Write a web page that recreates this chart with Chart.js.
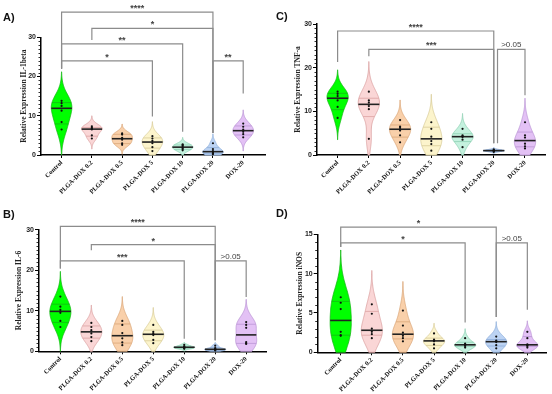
<!DOCTYPE html>
<html>
<head>
<meta charset="utf-8">
<script src="https://cdn.jsdelivr.net/npm/chart.js@4.4.1/dist/chart.umd.min.js"></script>
<style>
  body { margin: 0; background: #fff; }
  #wrap { position: relative; width: 552px; height: 394px; }
  .panel { position: absolute; width: 276px; height: 197px; }
</style>
</head>
<body>
<div id="wrap">
  <div class="panel" style="left:0;top:0"><canvas id="chartA" width="276" height="197"></canvas></div>
  <div class="panel" style="left:276px;top:0"><canvas id="chartC" width="276" height="197"></canvas></div>
  <div class="panel" style="left:0;top:197px"><canvas id="chartB" width="276" height="197"></canvas></div>
  <div class="panel" style="left:276px;top:197px"><canvas id="chartD" width="276" height="197"></canvas></div>
</div>
<script>
// --- data ---
const categories = ['Control', 'PLGA-DOX 0.2', 'PLGA-DOX 0.5', 'PLGA-DOX 5', 'PLGA-DOX 10', 'PLGA-DOX 20', 'DOX-20'];

// individual replicate values per group
const il1bValues = [
    [13.8, 13.2, 12.5, 11.3, 8.4, 6.5],
    [7.3, 6.9, 6.7, 6.5, 5.0, 4.2],
    [5.5, 5.2, 4.4, 3.9, 3.0, 2.6],
    [4.8, 4.2, 3.6, 3.0, 2.0, 1.0],
    [2.7, 2.5, 2.2, 1.8, 1.5, 1.2],
    [3.0, 1.5, 1.0, 0.7, 0.4, 0.2],
    [8.0, 7.2, 6.5, 5.9, 5.3, 4.5]
];
const tnfValues = [
    [14.5, 14.0, 13.5, 12.5, 11.0, 8.5],
    [14.5, 12.5, 12.0, 11.2, 10.5, 3.7],
    [8.0, 6.5, 6.2, 5.6, 4.5, 2.9],
    [7.5, 6.0, 4.2, 3.2, 2.5, 1.0],
    [6.0, 4.5, 4.3, 4.1, 3.5, 1.8],
    [1.3, 1.1, 1.0, 1.0, 0.9, 0.7],
    [7.5, 4.5, 4.0, 2.6, 2.0, 1.5]
];
const il6Values = [
    [13.5, 11.0, 10.2, 9.5, 7.5, 6.0],
    [7.0, 6.0, 5.2, 4.4, 3.5, 2.5],
    [7.5, 6.5, 4.5, 3.2, 2.2, 1.5],
    [6.5, 4.8, 4.4, 4.0, 2.8, 2.0],
    [1.6, 1.2, 1.1, 0.9, 0.8, 0.6],
    [1.4, 0.8, 0.6, 0.4, 0.3, 0.2],
    [7.2, 6.5, 5.8, 2.3, 2.0, 1.8]
];
const inosValues = [
    [7.0, 6.3, 5.5, 2.6, 2.2, 2.1],
    [6.1, 4.9, 3.0, 2.6, 2.3, 1.8],
    [5.3, 3.4, 2.5, 2.1, 1.8, 1.4],
    [2.4, 1.6, 1.5, 1.4, 1.0, 0.5],
    [1.8, 1.1, 1.0, 0.9, 0.8, 0.6],
    [2.0, 1.5, 1.4, 1.3, 0.9, 0.5],
    [2.6, 1.8, 1.0, 0.9, 0.8, 0.6]
];

// upper tip of each violin (sets the smoothing of that violin)
const il1bTips = [21.2, 10.0, 7.9, 8.5, 4.5, 5.4, 11.5];
const tnfTips = [19.5, 21.4, 12.6, 13.9, 9.5, 1.7, 13.0];
const il6Tips = [19.7, 11.4, 13.5, 10.8, 2.2, 2.2, 12.8];
const inosTips = [13.0, 10.4, 9.0, 3.7, 3.0, 3.9, 4.0];

// significance brackets: [from group, to group, level, label, left leg end, right leg end]
const il1bBrackets = [
    [0, 5, 36.4, '****', 22, 5.6],
    [1, 5, 32.3, '*', 29.3, 5.6],
    [0, 4, 28.3, '**', 22, 5.9],
    [0, 3, 24.0, '*', 22, 9.8],
    [5, 6, 24.0, '**', 5.6, 15.7]
];
const tnfBrackets = [
    [0, 5, 28.4, '****', 21.3, 2.7],
    [1, 5, 24.2, '***', 22.6, 2.7],
    [5.12, 6, 24.2, '>0.05', 2.7, 13.7]
];
const il6Brackets = [
    [0, 5, 30.8, '****', 20.4, 2.7],
    [1, 5, 26.3, '*', 24.9, 2.7],
    [0, 4, 22.3, '***', 20.4, 3.1],
    [5, 6, 22.3, '>0.05', 2.7, 13.4]
];
const inosBrackets = [
    [0, 5, 15.9, '*', 13.4, 4.5],
    [0, 4, 13.9, '*', 13.4, 3.8],
    [5, 6, 13.9, '>0.05', 4.5, 5.4]
];

// --- styles ---
const violinFills = ['#00ff00', '#fad6d6', '#f9d0aa', '#fcf4cc', '#c4f1de', '#bcd3f3', '#e3c1f5'];
const violinLines = ['#14b814', '#dca3a3', '#dba77a', '#d8cc98', '#8fd0b4', '#8eaedb', '#bb95d6'];

function quantile(sorted, p) {
    const pos = p * (sorted.length + 1) - 1;
    const lo = Math.max(0, Math.min(sorted.length - 1, Math.floor(pos)));
    const hi = Math.max(0, Math.min(sorted.length - 1, Math.ceil(pos)));
    return sorted[lo] + (sorted[hi] - sorted[lo]) * (pos - Math.floor(pos));
}

function makePlugin(cfg) {
    return {
        id: 'violins',
        beforeDatasetsDraw(chart) {
            const { ctx, scales: { x, y } } = chart;
            const hw = 0.34;
            cfg.values.forEach((vals, i) => {
                const s = vals.slice().sort((a, b) => a - b);
                const vmin = s[0], vmax = s[s.length - 1];
                const h = Math.max((cfg.tips[i] - vmax) / 2.8, 0.05);
                const lo = Math.max(0, vmin - 2.8 * h);
                const hi = cfg.tips[i];
                const dens = v => s.reduce((acc, d) => acc + Math.exp(-0.5 * ((v - d) / h) ** 2), 0);
                const N = 90;
                const ys = [], ds = [];
                for (let k = 0; k <= N; k++) {
                    const v = lo + (hi - lo) * k / N;
                    ys.push(v);
                    ds.push(dens(v));
                }
                const dmax = Math.max(...ds);
                const w = v => dens(v) / dmax * hw;

                ctx.save();
                ctx.beginPath();
                ys.forEach((v, k) => {
                    const px = x.getPixelForValue(i + ds[k] / dmax * hw);
                    const py = y.getPixelForValue(v);
                    k === 0 ? ctx.moveTo(px, py) : ctx.lineTo(px, py);
                });
                for (let k = N; k >= 0; k--) {
                    ctx.lineTo(x.getPixelForValue(i - ds[k] / dmax * hw), y.getPixelForValue(ys[k]));
                }
                ctx.closePath();
                ctx.fillStyle = violinFills[i];
                ctx.fill();
                ctx.lineWidth = 0.8;
                ctx.strokeStyle = violinLines[i];
                ctx.stroke();

                // quartiles
                [0.25, 0.75].forEach(p => {
                    const q = quantile(s, p);
                    const wq = w(q);
                    ctx.beginPath();
                    ctx.moveTo(x.getPixelForValue(i - wq), y.getPixelForValue(q));
                    ctx.lineTo(x.getPixelForValue(i + wq), y.getPixelForValue(q));
                    ctx.lineWidth = 0.8;
                    ctx.strokeStyle = violinLines[i];
                    ctx.stroke();
                });
                // median
                const med = quantile(s, 0.5);
                const wm = w(med);
                ctx.beginPath();
                ctx.moveTo(x.getPixelForValue(i - wm), y.getPixelForValue(med));
                ctx.lineTo(x.getPixelForValue(i + wm), y.getPixelForValue(med));
                ctx.lineWidth = 1.6;
                ctx.strokeStyle = '#222';
                ctx.stroke();
                ctx.restore();
            });
        },
        afterDraw(chart) {
            const { ctx, scales: { x, y } } = chart;
            ctx.save();
            // minor ticks on the y axis
            const ax = chart.chartArea.left;
            ctx.strokeStyle = '#000';
            ctx.lineWidth = 0.8;
            for (let v = 0; v <= cfg.yMax; v += 1) {
                if (v % cfg.yStep === 0) continue;
                const py = Math.round(y.getPixelForValue(v)) + 0.5;
                ctx.beginPath();
                ctx.moveTo(ax - 2.5, py);
                ctx.lineTo(ax, py);
                ctx.stroke();
            }
            // brackets
            cfg.brackets.forEach(([a, b, level, label, endA, endB]) => {
                const xa = x.getPixelForValue(a), xb = x.getPixelForValue(b);
                const yl = y.getPixelForValue(level);
                ctx.beginPath();
                ctx.moveTo(xa, y.getPixelForValue(endA));
                ctx.lineTo(xa, yl);
                ctx.lineTo(xb, yl);
                ctx.lineTo(xb, y.getPixelForValue(endB));
                ctx.strokeStyle = '#8c8c8c';
                ctx.lineWidth = 1.2;
                ctx.stroke();
                ctx.fillStyle = '#444';
                ctx.textAlign = 'center';
                ctx.textBaseline = 'alphabetic';
                if (label.startsWith('>')) {
                    ctx.font = '8px "Liberation Sans"';
                    ctx.fillText(label, (xa + xb) / 2, yl - 2);
                } else {
                    ctx.font = 'bold 9px "Liberation Sans"';
                    ctx.fillText(label, (xa + xb) / 2, yl - 1);
                }
            });
            // panel letter
            ctx.font = 'bold 11px "Liberation Sans"';
            ctx.fillStyle = '#111';
            ctx.textAlign = 'left';
            ctx.textBaseline = 'middle';
            ctx.fillText(cfg.letter, cfg.letterX, cfg.letterY);
            ctx.restore();
        }
    };
}

function makePanel(canvasId, cfg) {
    const points = cfg.values.flatMap((g, i) => g.map(v => ({ x: i, y: v })));
    return new Chart(document.getElementById(canvasId), {
        type: 'scatter',
        data: {
            datasets: [{
                data: points,
                pointRadius: 1.1,
                pointBackgroundColor: '#111',
                pointBorderWidth: 0,
                clip: false
            }]
        },
        options: {
            responsive: false,
            animation: false,
            devicePixelRatio: 1,
            events: [],
            layout: { padding: { left: cfg.padLeft, top: cfg.padTop, right: cfg.padRight, bottom: 0 } },
            plugins: { legend: { display: false }, tooltip: { enabled: false } },
            scales: {
                x: {
                    type: 'linear',
                    min: cfg.xMin,
                    max: cfg.xMax,
                    afterBuildTicks: s => { s.ticks = categories.map((c, i) => ({ value: i })); },
                    afterFit: s => { s.height = cfg.xHeight; },
                    ticks: {
                        autoSkip: false,
                        minRotation: 45,
                        maxRotation: 45,
                        padding: 1,
                        color: '#111',
                        font: { family: '"Liberation Serif"', size: 6.5, weight: 'bold' },
                        callback: v => categories[v]
                    },
                    grid: { drawOnChartArea: false, tickLength: 3, color: '#000', tickWidth: 1 },
                    border: { color: '#000', width: 1.5 }
                },
                y: {
                    min: 0,
                    max: cfg.yMax,
                    afterFit: s => { s.width = cfg.yWidth; },
                    ticks: {
                        stepSize: cfg.yStep,
                        padding: 1,
                        color: '#222',
                        font: { family: '"Liberation Sans"', size: 7, weight: 'bold' }
                    },
                    grid: { drawOnChartArea: false, tickLength: 4, color: '#000', tickWidth: 1 },
                    border: { color: '#000', width: 1.5 },
                    title: {
                        display: true,
                        text: cfg.title,
                        color: '#222',
                        padding: { top: 4, bottom: 4 },
                        font: { family: '"Liberation Serif"', size: 7.5, weight: 'bold' }
                    }
                }
            }
        },
        plugins: [makePlugin(cfg)]
    });
}

makePanel('chartA', {
    values: il1bValues, tips: il1bTips, brackets: il1bBrackets,
    title: 'Relative Expression IL-1beta', letter: 'A)', letterX: 3, letterY: 17.5,
    yMax: 30, yStep: 10,
    padLeft: 16, yWidth: 25, padTop: 37.3, padRight: 11, xHeight: 42,
    xMin: -0.68, xMax: 6.72
});
makePanel('chartC', {
    values: tnfValues, tips: tnfTips, brackets: tnfBrackets,
    title: 'Relative Expression TNF-a', letter: 'C)', letterX: 0, letterY: 17,
    yMax: 30, yStep: 10,
    padLeft: 14, yWidth: 27, padTop: 24, padRight: 6.7, xHeight: 42,
    xMin: -0.66, xMax: 6.65
});
makePanel('chartB', {
    values: il6Values, tips: il6Tips, brackets: il6Brackets,
    title: 'Relative Expression IL-6', letter: 'B)', letterX: 3, letterY: 17.5,
    yMax: 30, yStep: 10,
    padLeft: 11, yWidth: 28, padTop: 32.7, padRight: 10, xHeight: 42.7,
    xMin: -0.69, xMax: 6.64
});
makePanel('chartD', {
    values: inosValues, tips: inosTips, brackets: inosBrackets,
    title: 'Relative Expression iNOS', letter: 'D)', letterX: 0, letterY: 17,
    yMax: 15, yStep: 5,
    padLeft: 16, yWidth: 25.7, padTop: 37.3, padRight: 6, xHeight: 41.7,
    xMin: -0.74, xMax: 6.6
});
</script>
</body>
</html>
